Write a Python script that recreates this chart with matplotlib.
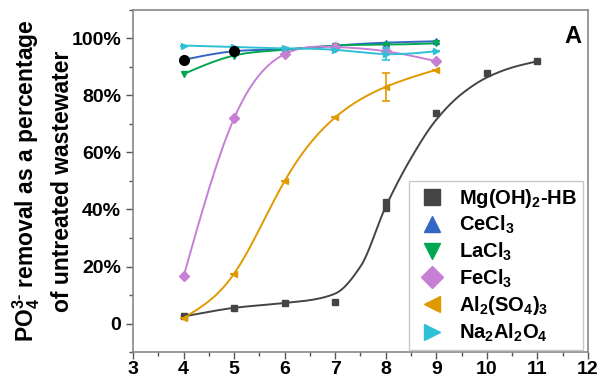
import numpy as np
import matplotlib
matplotlib.use("Agg")
import matplotlib.pyplot as plt

plt.rcParams.update({
    "font.family": "sans-serif",
    "font.sans-serif": ["Liberation Sans", "DejaVu Sans"],
    "font.weight": "bold",
    "mathtext.fontset": "custom",
    "mathtext.rm": "Liberation Sans:bold",
    "mathtext.it": "Liberation Sans:bold",
    "mathtext.bf": "Liberation Sans:bold",
    "mathtext.default": "bf",
})

ph = [4, 5, 6, 7, 8, 9]

mg_x = [4, 5, 6, 7, 8, 8, 9, 10, 11]
mg_y = [2.5, 5.5, 7.2, 7.5, 40.5, 42.5, 74, 87.8, 92]
# fitted curve
mg_fit_x = [4, 5, 6, 6.5, 7, 7.5, 8, 8.5, 9, 9.5, 10, 10.5, 11]
mg_fit_y = [2.5, 5.5, 7.2, 8.2, 10.5, 20, 41, 58, 71.5, 80.5, 86.3, 89.8, 92]

ce_y = [92.5, 95.5, 96.2, 97.5, 98.5, 99]
la_y = [87.5, 94, 96, 97.5, 97.8, 98.3]
fe_y = [16.5, 72, 94.5, 97, 95.5, 92]
al_y = [2, 17.5, 50, 72.3, 83, 89]
al_err = [0, 0, 0, 0, 5, 0]
na_y = [97.5, 97, 96.5, 96, 94.5, 95.5]
na_err = [0, 0, 0, 0, 2, 0]
black_x = [4, 5]
black_y = [92.5, 95.5]

labels = ["Mg(OH)$_2$-HB", "CeCl$_3$", "LaCl$_3$", "FeCl$_3$",
          "Al$_2$(SO$_4$)$_3$", "Na$_2$Al$_2$O$_4$"]
colors = ["#444444", "#3366c4", "#00a650", "#c77fd6", "#e09a00", "#2fc0d6"]
markers = ["s", "^", "v", "D", "<", ">"]


def spline(x, y, n=300):
    # natural cubic spline for smooth connecting lines
    x = np.asarray(x, float)
    y = np.asarray(y, float)
    h = np.diff(x)
    m = len(x)
    A = np.zeros((m, m))
    b = np.zeros(m)
    A[0, 0] = A[-1, -1] = 1
    for i in range(1, m - 1):
        A[i, i - 1] = h[i - 1]
        A[i, i] = 2 * (h[i - 1] + h[i])
        A[i, i + 1] = h[i]
        b[i] = 6 * ((y[i + 1] - y[i]) / h[i] - (y[i] - y[i - 1]) / h[i - 1])
    M = np.linalg.solve(A, b)
    xs = np.linspace(x[0], x[-1], n)
    idx = np.clip(np.searchsorted(x, xs) - 1, 0, m - 2)
    x0, x1 = x[idx], x[idx + 1]
    hh = x1 - x0
    t0, t1 = x1 - xs, xs - x0
    ys = (M[idx] * t0 ** 3 + M[idx + 1] * t1 ** 3) / (6 * hh) \
        + (y[idx] / hh - M[idx] * hh / 6) * t0 + (y[idx + 1] / hh - M[idx + 1] * hh / 6) * t1
    return xs, ys


def monotone(x, y, n=300):
    # Fritsch-Carlson monotone cubic, no overshoot
    x = np.asarray(x, float)
    y = np.asarray(y, float)
    h = np.diff(x)
    d = np.diff(y) / h
    m = np.zeros_like(y)
    m[0], m[-1] = d[0], d[-1]
    for i in range(1, len(x) - 1):
        if d[i - 1] * d[i] <= 0:
            m[i] = 0
        else:
            w1 = 2 * h[i] + h[i - 1]
            w2 = h[i] + 2 * h[i - 1]
            m[i] = (w1 + w2) / (w1 / d[i - 1] + w2 / d[i])
    xs = np.linspace(x[0], x[-1], n)
    idx = np.clip(np.searchsorted(x, xs) - 1, 0, len(x) - 2)
    t = (xs - x[idx]) / h[idx]
    h00 = 2 * t ** 3 - 3 * t ** 2 + 1
    h10 = t ** 3 - 2 * t ** 2 + t
    h01 = -2 * t ** 3 + 3 * t ** 2
    h11 = t ** 3 - t ** 2
    ys = h00 * y[idx] + h10 * h[idx] * m[idx] + h01 * y[idx + 1] + h11 * h[idx] * m[idx + 1]
    return xs, ys


fig = plt.figure(figsize=(6.03, 3.81), dpi=100)
ax = fig.add_axes([0.2206, 0.076, 0.7544, 0.898])

lw = 1.4
ms = 5

# Mg(OH)2-HB: fit line + points
fx, fy = monotone(mg_fit_x, mg_fit_y)
ax.plot(fx, fy, color=colors[0], lw=lw, zorder=2)
ax.plot(mg_x, mg_y, ls="none", marker=markers[0], color=colors[0], ms=ms, zorder=3)

series = [ce_y, la_y, fe_y, al_y, na_y]
errs = [None, None, None, al_err, na_err]
for k, (ys, er) in enumerate(zip(series, errs), start=1):
    sx, sy = spline(ph, ys)
    ax.plot(sx, sy, color=colors[k], lw=lw, zorder=2)
    if er is not None:
        ax.errorbar(ph, ys, yerr=er, ls="none", ecolor=colors[k], elinewidth=1.2,
                    capsize=3, capthick=1.2, zorder=3)
    ax.plot(ph, ys, ls="none", marker=markers[k], color=colors[k], ms=ms, zorder=3)

ax.plot(black_x, black_y, ls="none", marker="o", color="black", ms=7, zorder=4)

# legend (markers only)
handles = [plt.Line2D([], [], ls="none", marker=markers[i], color=colors[i], ms=11)
           for i in range(6)]
leg = ax.legend(handles, labels, loc="lower right", fontsize=14.5, frameon=True,
                fancybox=False, edgecolor="#c8c8c8", framealpha=1, handlelength=1.6,
                handletextpad=0.55, labelspacing=0.22, borderpad=0.3,
                borderaxespad=0, bbox_to_anchor=(0.989, 0.006))
leg.get_frame().set_linewidth(1.0)

ax.set_xlim(3, 12)
ax.set_ylim(-10, 110)
ax.set_xticks(range(3, 13))
ax.set_xticks(np.arange(3.5, 12, 1), minor=True)
ax.set_yticks([0, 20, 40, 60, 80, 100])
ax.set_yticklabels(["0", "20%", "40%", "60%", "80%", "100%"])
ax.set_yticks(np.arange(-10, 111, 10), minor=True)
ax.tick_params(which="both", direction="out", colors="#555555", labelcolor="black",
               labelsize=14, width=1.0)
ax.tick_params(which="major", length=5)
ax.tick_params(which="minor", length=3)
ax.tick_params(axis="x", pad=1.5)
for sp in ax.spines.values():
    sp.set_color("#888888")
    sp.set_linewidth(1.2)

ax.set_ylabel("PO$_4^{3\\text{-}}$ removal as a percentage\nof untreated wastewater",
              fontsize=16.5, fontweight="bold", linespacing=1.5, labelpad=-2)

ax.text(0.985, 0.955, "A", transform=ax.transAxes, ha="right", va="top",
        fontsize=17, fontweight="bold")

fig.savefig("out.png", dpi=100)
